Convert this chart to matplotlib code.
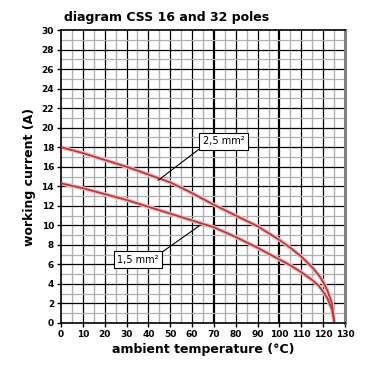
import numpy as np
import matplotlib
matplotlib.use("Agg")
from matplotlib import pyplot as plt

# values
temp = [0, 10, 20, 30, 40, 50, 60, 70, 80, 90, 100, 105, 110, 115, 118, 120, 122, 124, 125]
i_25 = [18.0, 17.4, 16.7, 16.0, 15.2, 14.4, 13.3, 12.1, 11.0, 9.9, 8.5, 7.7, 6.8, 5.7, 4.9, 4.2, 3.3, 2.0, 0.2]
i_15 = [14.3, 13.8, 13.2, 12.6, 11.9, 11.2, 10.5, 9.8, 8.8, 7.7, 6.5, 5.9, 5.2, 4.4, 3.8, 3.2, 2.5, 1.4, 0.2]

xticks = list(range(0, 131, 10))
yticks = list(range(0, 31, 2))

fig = plt.figure(figsize=(3.8, 3.8), dpi=100)
ax = fig.add_axes([0.1605, 0.15, 0.7475, 0.771])

# grid: grey minor, black major
for x in range(5, 130, 10):
    ax.axvline(x, color="#b0b0b0", lw=1.0, zorder=1)
for x in range(10, 130, 10):
    ax.axvline(x, color="black", lw=1.6 if x in (70, 100) else 0.9, zorder=1)
for y in range(1, 30, 2):
    ax.axhline(y, color="#b0b0b0", lw=0.9, zorder=1)
for y in range(2, 30, 2):
    ax.axhline(y, color="black", lw=0.9, zorder=1)

# pink halo + red line
for ys in (i_25, i_15):
    ax.plot(temp, ys, color="#f2c0c0", lw=3.0, zorder=2, solid_capstyle="round")
    ax.plot(temp, ys, color="#b83a3a", lw=1.3, zorder=3)

ax.set_xlim(0, 130)
ax.set_ylim(0, 30)
ax.set_xticks(xticks)
ax.set_yticks(yticks)
ax.tick_params(labelsize=6.5, length=3, width=1, pad=2)
for lab in ax.get_xticklabels() + ax.get_yticklabels():
    lab.set_fontweight("bold")

ax.spines["left"].set_linewidth(1.2)
ax.spines["bottom"].set_linewidth(1.2)
ax.spines["top"].set_linewidth(1.2)
ax.spines["right"].set_color("#808080")
ax.spines["right"].set_linewidth(2.2)

ax.set_xlabel("ambient temperature (°C)", fontsize=9, fontweight="bold", labelpad=3)
ax.set_ylabel("working current (A)", fontsize=9, fontweight="bold", labelpad=4)
fig.text(0.168, 0.945, "diagram CSS 16 and 32 poles", fontsize=9, fontweight="bold")

box = dict(boxstyle="square,pad=0.35", fc="white", ec="black", lw=0.8)
ax.annotate("2,5 mm²", xy=(44.4, 14.6), xytext=(74.4, 18.6), fontsize=7,
            ha="center", va="center", bbox=box, zorder=5,
            arrowprops=dict(arrowstyle="-", color="black", lw=0.8,
                            shrinkA=0, shrinkB=0, relpos=(0, 0)))
ax.annotate("1,5 mm²", xy=(63.6, 10.0), xytext=(35.2, 6.5), fontsize=7,
            ha="center", va="center", bbox=box, zorder=5,
            arrowprops=dict(arrowstyle="-", color="black", lw=0.8,
                            shrinkA=0, shrinkB=0, relpos=(1, 1)))

fig.savefig("out.png", dpi=100)
